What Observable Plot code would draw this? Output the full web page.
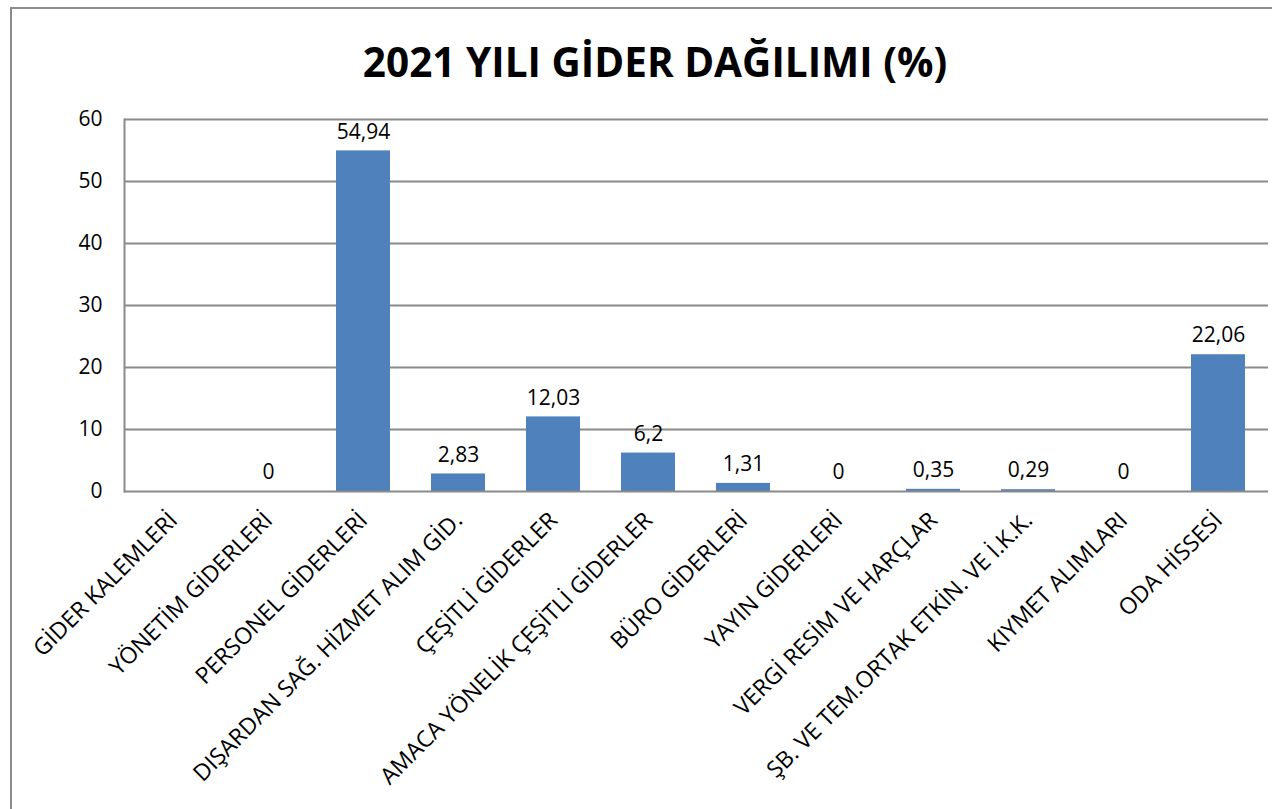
<!DOCTYPE html>
<html>
<head>
<meta charset="utf-8">
<script src="https://cdn.jsdelivr.net/npm/d3@7"></script>
<script src="https://cdn.jsdelivr.net/npm/@observablehq/plot@0.6"></script>
<style>
  html, body { margin: 0; padding: 0; background: #fff; }
  #wrap { position: relative; width: 1272px; height: 809px; overflow: hidden; background: #fff; }
  #border { position: absolute; left: 10px; top: 7px; width: 1300px; height: 900px;
            border-left: 2px solid #8c8c8c; border-top: 2px solid #8c8c8c; }
  #title { position: absolute; left: 19px; top: 0; width: 1272px; height: 100px; text-align: center;
           font-family: "Open Sans", sans-serif; font-weight: bold; font-size: 40.5px; line-height: 124px;
           color: #000; }
  #chart { position: absolute; left: 0; top: 100px; }
</style>
</head>
<body>
<div id="wrap">
  <div id="border"></div>
  <div id="title">2021 YILI GİDER DAĞILIMI (%)</div>
  <div id="chart"></div>
</div>
<script>
const categories = [
  "GİDER KALEMLERİ",
  "YÖNETİM GİDERLERİ",
  "PERSONEL GİDERLERİ",
  "DIŞARDAN SAĞ. HİZMET ALIM GİD.",
  "ÇEŞİTLİ GİDERLER",
  "AMACA YÖNELİK ÇEŞİTLİ GİDERLER",
  "BÜRO GİDERLERİ",
  "YAYIN GİDERLERİ",
  "VERGİ RESİM VE HARÇLAR",
  "ŞB. VE TEM.ORTAK ETKİN. VE İ.K.K.",
  "KIYMET ALIMLARI",
  "ODA HİSSESİ"
];
const values = [null, 0, 54.94, 2.83, 12.03, 6.2, 1.31, 0, 0.35, 0.29, 0, 22.06];
const yTicks = [0, 10, 20, 30, 40, 50, 60];

const data = categories.map((c, i) => ({cat: c, value: values[i]}));
const withValue = data.filter(d => d.value != null);
const fmt = v => String(v).replace(".", ",");

const chart = Plot.plot({
  width: 1272,
  height: 709,
  marginLeft: 124,
  marginRight: 4,
  marginTop: 19,
  marginBottom: 318,
  style: {fontFamily: "'Open Sans', sans-serif", background: "transparent"},
  x: {domain: categories, paddingInner: 0.43, paddingOuter: 0.215, label: null},
  y: {domain: [0, 60], label: null},
  marks: [
    Plot.ruleY(yTicks.slice(1), {stroke: "#8a8a8a", strokeWidth: 2}),
    Plot.frame({anchor: "left", stroke: "#8a8a8a", strokeWidth: 2}),
    Plot.barY(withValue, {x: "cat", y: "value", fill: "#4f81bd"}),
    Plot.ruleY([0], {stroke: "#8a8a8a", strokeWidth: 2}),
    Plot.text(withValue, {x: "cat", y: "value", text: d => fmt(d.value), dy: -19, fontSize: 21, fill: "#000"}),
    Plot.axisY({ticks: yTicks, tickSize: 0, tickPadding: 22, fontSize: 21, tickFormat: d => String(d), color: "#000"}),
    Plot.axisX({tickSize: 0, tickRotate: -45, fontSize: 23, tickPadding: 25, color: "#000"})
  ]
});
document.getElementById("chart").appendChild(chart);
</script>
</body>
</html>
